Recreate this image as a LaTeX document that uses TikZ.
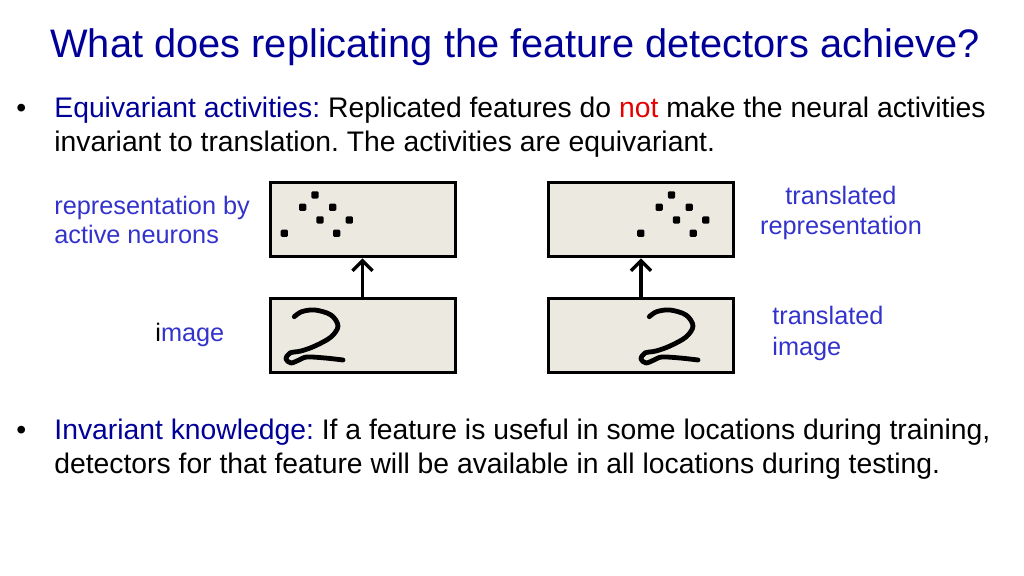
\documentclass[tikz,border=0pt]{standalone}
\usepackage{fontspec}
\setmainfont{Liberation Sans}
\usetikzlibrary{arrows.meta}
\frenchspacing
\definecolor{titleblue}{RGB}{0,0,153}
\definecolor{lblblue}{RGB}{51,51,204}
\definecolor{notred}{RGB}{230,0,0}
\definecolor{boxfill}{RGB}{235,233,224}
\tikzset{
  box/.style={draw=black, line width=1.5pt, fill=boxfill, minimum width=92.5pt, minimum height=37pt, inner sep=0pt},
  upar/.style={-{Straight Barb[length=5pt,width=10pt,line width=1.6pt]}, line width=1.6pt},
  line/.style={font=\fontsize{14.15}{17}\selectfont, anchor=base west, inner sep=0pt},
  lbl/.style={text=lblblue, font=\fontsize{12.65}{14.5}\selectfont, inner sep=0pt},
  two/.pic={\draw[line width=2.4pt, line cap=round, line join=round]
    plot[smooth, tension=0.55] coordinates {(9.3,6.7) (16.7,1.7) (30,0) (46,5) (53,16) (46,27) (30,36) (16,41) (5,43) (1,49) (6,53) (14,50) (22,47) (40,48) (58,50)};},
}

\begin{document}
\begin{tikzpicture}[x=0.5pt, y=-0.5pt]
  \useasboundingbox (0,0) rectangle (1024,576);

  % title
  \node[anchor=base west, inner sep=0pt, text=titleblue, font=\fontsize{19.9}{24}\selectfont] (title) at (50,58)
    {What does replicating the feature detectors achieve?};

  % first bullet
  \node[line] (b1) at (16,118) {•};
  \node[line] (l1) at (54,118) {{\color{titleblue}Equivariant activities:} Replicated features do {\color{notred}not} make the neural activities};
  \node[line] (l2) at (54,152) {invariant to translation. The activities are equivariant.};

  % boxes
  \node[box] (rep) at (362.5,220) {};
  \node[box] (img) at (362.5,336) {};
  \node[box] (trep) at (641,220) {};
  \node[box] (timg) at (641,336) {};
  \draw[upar] (img) -- (rep);
  \draw[upar] (timg) -- (trep);

  % active neurons
  \foreach \sx in {0,356.5} {
    \foreach \px/\py in {315/195, 302.7/207.3, 332.7/207.3, 320/220, 349.3/220, 284.3/233.3, 336.7/233.3}
      \fill[rounded corners=0.6pt] ({\px+\sx-3.6},{\py-3.6}) rectangle ({\px+\sx+3.6},{\py+3.6});
  }

  % the digits
  \pic at (285,310) {two};
  \pic at (640,310) {two};

  % labels
  \node[lbl, anchor=base west] (rl1) at (54,215) {representation by};
  \node[lbl, anchor=base west] (rl2) at (54,244) {active neurons};
  \node[lbl, anchor=base west] (il) at (155,342) {{\color{black}i}mage};
  \node[lbl, anchor=base] (tr1) at (841,205) {translated};
  \node[lbl, anchor=base] (tr2) at (841,235) {representation};
  \node[lbl, anchor=base west] (ti1) at (772,325) {translated};
  \node[lbl, anchor=base west] (ti2) at (772,356) {image};

  % second bullet
  \node[line] (b2) at (16,440) {•};
  \node[line] (l3) at (54,440) {{\color{titleblue}Invariant knowledge:} If a feature is useful in some locations during training,};
  \node[line] (l4) at (54,474) {detectors for that feature will be available in all locations during testing.};
\end{tikzpicture}
\end{document}
